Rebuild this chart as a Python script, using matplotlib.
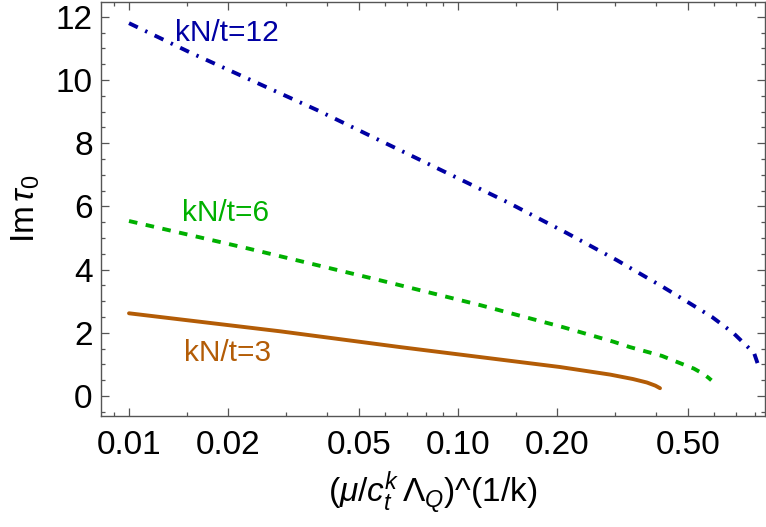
import matplotlib
matplotlib.use("Agg")
import matplotlib.pyplot as plt
from matplotlib.ticker import FixedLocator, FixedFormatter, MultipleLocator, NullFormatter

plt.rcParams['font.family'] = ['Liberation Sans', 'DejaVu Sans']
plt.rcParams['mathtext.fontset'] = 'custom'
plt.rcParams['mathtext.rm'] = 'Liberation Sans'
plt.rcParams['mathtext.it'] = 'Liberation Sans:italic'

# Data
x_12 = [0.01, 0.0155, 0.0265, 0.0373, 0.141, 0.214, 0.304, 0.42, 0.5, 0.592, 0.686, 0.794, 0.816]
y_12 = [11.8, 10.85, 9.75, 9.05, 6.14, 5.16, 4.30, 3.45, 2.97, 2.5, 2.0, 1.36, 1.0]

x_6 = [0.01, 0.0228, 0.0592, 0.1166, 0.2086, 0.297, 0.333, 0.417, 0.463, 0.521, 0.557, 0.577, 0.589]
y_6 = [5.54, 4.68, 3.64, 2.88, 2.18, 1.72, 1.55, 1.27, 1.08, 0.87, 0.7, 0.58, 0.5]

x_3 = [0.01, 0.0288, 0.0667, 0.204, 0.29, 0.34, 0.375, 0.398, 0.411]
y_3 = [2.62, 2.05, 1.55, 0.92, 0.68, 0.54, 0.43, 0.33, 0.25]

labels = ["kN/t=12", "kN/t=6", "kN/t=3"]
x_ticks = [0.01, 0.02, 0.05, 0.10, 0.20, 0.50]
x_tick_labels = ["0.01", "0.02", "0.05", "0.10", "0.20", "0.50"]
x_minor = [0.009, 0.015, 0.03, 0.04, 0.06, 0.07, 0.08, 0.09, 0.15, 0.3, 0.4, 0.6, 0.7, 0.8]

c_blue = '#0000a3'
c_green = '#00b000'
c_orange = '#b35c06'

fig = plt.figure(figsize=(7.66, 5.27), dpi=100)
ax = fig.add_axes([101/766, (527-416)/527, (765-101)/766, (416-2)/527])

ax.plot(x_12, y_12, color=c_blue, lw=2.8, linestyle=(0, (2.5, 2.1, 0.6, 2.1)))
ax.plot(x_6, y_6, color=c_green, lw=2.8, linestyle=(0, (2.2, 2.2)))
ax.plot(x_3, y_3, color=c_orange, lw=2.8, solid_capstyle='round')

ax.set_xscale('log')
ax.set_xlim(0.00822, 0.857)
ax.set_ylim(-0.63, 12.47)

ax.xaxis.set_major_locator(FixedLocator(x_ticks))
ax.xaxis.set_major_formatter(FixedFormatter(x_tick_labels))
ax.xaxis.set_minor_locator(FixedLocator(x_minor))
ax.xaxis.set_minor_formatter(NullFormatter())
ax.yaxis.set_major_locator(MultipleLocator(2))
ax.yaxis.set_minor_locator(MultipleLocator(0.5))

frame_col = '#555555'
for s in ax.spines.values():
    s.set_color(frame_col)
    s.set_linewidth(1.0)
ax.tick_params(which='both', direction='in', top=True, right=True, color=frame_col, width=0.9)
ax.tick_params(which='major', length=5.5, labelsize=24)
ax.tick_params(axis='x', which='major', pad=10)
ax.tick_params(axis='y', which='major', pad=6)
ax.tick_params(which='minor', length=3)

ax.text(0.0199, 11.49, labels[0], color=c_blue, fontsize=21.5, ha='center', va='center')
ax.text(0.0197, 5.79, labels[1], color=c_green, fontsize=21.5, ha='center', va='center')
ax.text(0.0199, 1.36, labels[2], color=c_orange, fontsize=21.5, ha='center', va='center')

ax.set_xlabel(r"$(\mu/c_t^k\,\Lambda_Q)$^(1/k)", fontsize=24, labelpad=6)
ax.set_ylabel(r"Im$\,\tau_0$", fontsize=24, labelpad=10)

fig.savefig("out.png", dpi=100)
